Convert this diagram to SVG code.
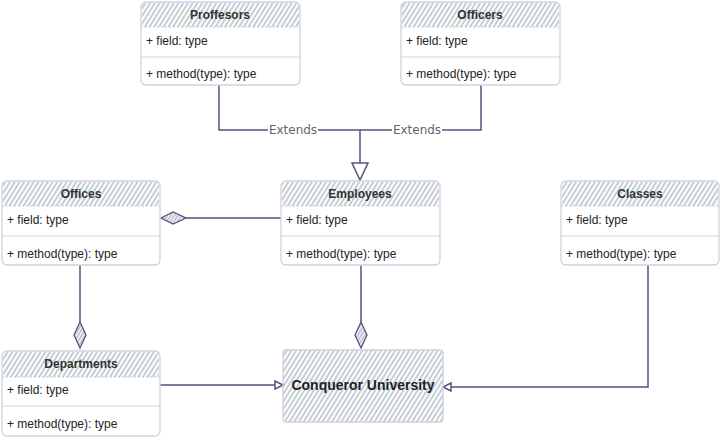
<svg xmlns="http://www.w3.org/2000/svg" width="721" height="440" viewBox="0 0 721 440">
<defs>
<pattern id="hatch" patternUnits="userSpaceOnUse" width="4" height="4" patternTransform="rotate(32)">
<line x1="1" y1="0" x2="1" y2="4" stroke="#93a6ae" stroke-width="1.1"/>
</pattern>
<pattern id="dhatch" patternUnits="userSpaceOnUse" width="3" height="3" patternTransform="rotate(32)">
<line x1="1" y1="0" x2="1" y2="3" stroke="#8a86ab" stroke-width="1"/>
</pattern>
<style>
.box{fill:#ffffff;stroke:#d3d0e2;stroke-width:1.3}
.hdr{fill:url(#hatch);stroke:none}
.sep{stroke:#d3d0e2;stroke-width:1.2;fill:none}
.dash{stroke:#c5c9d6;stroke-width:1;stroke-dasharray:2 2;fill:none}
.title{font-family:"Liberation Sans",Arial,sans-serif;font-size:12px;font-weight:bold;fill:#333;text-anchor:middle}
.txt{font-family:"Liberation Sans",Arial,sans-serif;font-size:12px;fill:#222}
.big{font-family:"Liberation Sans",Arial,sans-serif;font-size:14px;font-weight:bold;fill:#222;text-anchor:middle}
.line{fill:none;stroke:#56517e;stroke-width:1.5}
.dia{fill:url(#dhatch);stroke:#56517e;stroke-width:1.3}
.tri{fill:#ffffff;stroke:#56517e;stroke-width:1.5}
.lbl{font-family:"DejaVu Sans",sans-serif;font-size:12px;fill:#666;text-anchor:middle}
</style>
</defs>

<g id="connectors">
<path class="line" d="M219 85 V130 H360 V164"/>
<path class="line" d="M481 85 V130 H360"/>
<polygon class="tri" points="352,163 368,163 360,180"/>
<rect x="268" y="123" width="50" height="14" fill="#fff"/>
<text class="lbl" x="293" y="134">Extends</text>
<rect x="392" y="123" width="50" height="14" fill="#fff"/>
<text class="lbl" x="417" y="134">Extends</text>

<path class="line" d="M281 218 H186"/>
<polygon class="dia" points="161,218 173,212 186,218 173,224"/>

<path class="line" d="M80 265 V322"/>
<polygon class="dia" points="80,322 86,335 80,348 74,335"/>

<path class="line" d="M361 265 V322"/>
<polygon class="dia" points="361,322 367,335 361,348 355,335"/>

<path class="line" d="M160 385 H276"/>
<polygon class="tri" points="275,381 283,385 275,389"/>

<path class="line" d="M648 265 V387 H451"/>
<polygon class="tri" points="451,383 443,387 451,391"/>
</g>

<g id="proffesors">
<rect class="box" x="141" y="2" width="159" height="83" rx="5"/>
<rect class="hdr" x="142" y="3" width="157" height="24" rx="4"/>
<line class="dash" x1="141" y1="27" x2="300" y2="27"/>
<text class="title" x="220" y="19">Proffesors</text>
<text class="txt" x="146" y="45">+ field: type</text>
<line class="sep" x1="141" y1="57" x2="300" y2="57"/>
<text class="txt" x="146" y="78">+ method(type): type</text>
</g>

<g id="officers">
<rect class="box" x="401" y="2" width="159" height="83" rx="5"/>
<rect class="hdr" x="402" y="3" width="157" height="24" rx="4"/>
<line class="dash" x1="401" y1="27" x2="560" y2="27"/>
<text class="title" x="480" y="19">Officers</text>
<text class="txt" x="406" y="45">+ field: type</text>
<line class="sep" x1="401" y1="57" x2="560" y2="57"/>
<text class="txt" x="406" y="78">+ method(type): type</text>
</g>

<g id="offices">
<rect class="box" x="2" y="181" width="158" height="84" rx="5"/>
<rect class="hdr" x="3" y="182" width="156" height="24" rx="4"/>
<line class="dash" x1="2" y1="206" x2="160" y2="206"/>
<text class="title" x="81" y="198">Offices</text>
<text class="txt" x="7" y="224">+ field: type</text>
<line class="sep" x1="2" y1="236" x2="160" y2="236"/>
<text class="txt" x="7" y="258">+ method(type): type</text>
</g>

<g id="employees">
<rect class="box" x="281" y="181" width="159" height="84" rx="5"/>
<rect class="hdr" x="282" y="182" width="157" height="24" rx="4"/>
<line class="dash" x1="281" y1="206" x2="440" y2="206"/>
<text class="title" x="360" y="198">Employees</text>
<text class="txt" x="286" y="224">+ field: type</text>
<line class="sep" x1="281" y1="236" x2="440" y2="236"/>
<text class="txt" x="286" y="258">+ method(type): type</text>
</g>

<g id="classes">
<rect class="box" x="561" y="181" width="158" height="84" rx="5"/>
<rect class="hdr" x="562" y="182" width="156" height="24" rx="4"/>
<line class="dash" x1="561" y1="206" x2="719" y2="206"/>
<text class="title" x="640" y="198">Classes</text>
<text class="txt" x="566" y="224">+ field: type</text>
<line class="sep" x1="561" y1="236" x2="719" y2="236"/>
<text class="txt" x="566" y="258">+ method(type): type</text>
</g>

<g id="departments">
<rect class="box" x="2" y="351" width="158" height="85" rx="5"/>
<rect class="hdr" x="3" y="352" width="156" height="25" rx="4"/>
<line class="dash" x1="2" y1="377" x2="160" y2="377"/>
<text class="title" x="81" y="368">Departments</text>
<text class="txt" x="7" y="394">+ field: type</text>
<line class="sep" x1="2" y1="406" x2="160" y2="406"/>
<text class="txt" x="7" y="428">+ method(type): type</text>
</g>

<g id="conqueror-university">
<rect x="283" y="350" width="160" height="72" rx="3" fill="url(#hatch)" stroke="#d3d0e2" stroke-width="1.3"/>
<text class="big" x="363" y="390">Conqueror University</text>
</g>
</svg>
